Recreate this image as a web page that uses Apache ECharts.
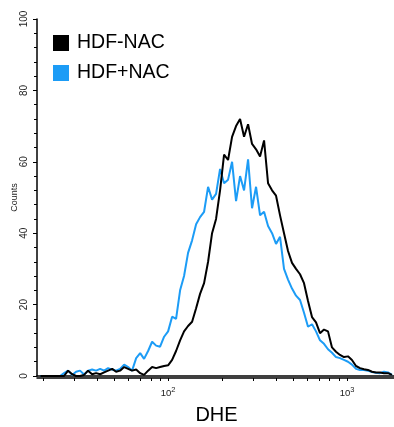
<!DOCTYPE html>
<html>
<head>
<meta charset="utf-8">
<script src="https://cdn.jsdelivr.net/npm/echarts@6/dist/echarts.min.js"></script>
<style>html,body{margin:0;padding:0;background:#fff}#c{width:394px;height:427px}</style>
</head>
<body>
<div id="c"></div>
<script>
// DHE intensity (channel centres, log scale)
var dhe = [19.3,20.3,21.4,22.5,23.7,24.9,26.2,27.6,29.1,30.6,32.2,33.9,35.7,37.6,39.6,41.7,43.9,46.2,48.7,51.2,53.9,56.8,59.8,62.9,66.3,69.8,73.4,77.3,81.4,85.7,90.2,95.0,100,105.3,110.8,116.7,122.8,129.3,136.2,143.4,150.9,158.9,167.3,176.1,185.4,195.2,205.5,216.4,227.8,239.8,252.5,265.8,279.9,294.6,310.2,326.6,343.9,362.0,381.1,401.2,422.4,444.6,468.1,492.8,518.9,546.3,575.1,605.5,637.4,671.1,706.5,743.8,783.1,824.4,867.9,913.8,962.0,1013,1066,1123,1182,1245,1310,1380,1452,1529,1610,1695,1784];
// Counts, HDF-NAC (black)
var hdfMinusNac = [0,0,0,0,0,0,0,1.5,0.5,0,0,0.3,1.5,0.5,0.8,0.5,1,1.5,2,1.2,1.5,2.5,2,1.5,1.8,0.8,0.3,1.5,2.5,2.2,2.5,2.8,3,4.5,7,10,12.5,14,15.2,19,23,26,32,40,44,52,62,60.5,67,70,72,67,70.5,65,63.5,61.5,66,54,52,50.5,45,40,35,31.7,30,28.5,26,21,16.5,15,12,13,12.5,8,6.8,5.9,5.3,5.5,4.5,2.8,2.2,1.9,1.7,1.2,1,1,0.8,0.8,0.3];
// Counts, HDF+NAC (blue)
var hdfPlusNac = [0,0,0,0,0,0,0.8,1.5,0.3,1.2,1.5,0.4,1.5,1.8,1.5,2,1.5,2.2,1.8,1.5,2,3.2,2.5,1.5,5,6.4,4.8,7,9.6,8.5,8.2,11,12.5,16.6,16,24,28,34.5,38,42.5,44.5,46,53,49.4,51,58,54,55,60,49,56,52,60.7,47,53,45,46,42,40,37,39,30,27,24.5,22.5,21.3,17.7,13.8,14.5,12.5,10,9,7.5,6.5,5.3,5,4.5,4,3.2,2,1.7,1.7,1.5,1.1,0.9,0.8,1.2,1,0.3];
var seriesNames = ['HDF-NAC','HDF+NAC'];
var seriesColors = ['#000000','#1c9cf6'];
var xMajorTicks = [100,1000];
var xMinorTicks = [20,30,40,50,60,70,80,90,100,200,300,400,500,600,700,800,900,1000];
var yTicks = [0,20,40,60,80,100];

function pairs(xs, ys){ return xs.map(function(x,i){ return [x, ys[i]]; }); }

var font = '"Liberation Sans", Arial, Helvetica, sans-serif';
var chart = echarts.init(document.getElementById('c'), null, {renderer:'canvas'});
chart.setOption({
  animation:false,
  backgroundColor:'#fff',
  grid:{left:37, right:-2, top:19, bottom:51, containLabel:false, outerBoundsMode:'none'},
  legend:{
    orient:'vertical', left:53, top:33, padding:0, itemWidth:16, itemHeight:16, itemGap:10,
    icon:'rect',
    textStyle:{fontFamily:font, fontSize:19.5, color:'#000', padding:[0,0,0,3]},
    data:seriesNames
  },
  xAxis:[{
    type:'log', logBase:10, min:18.5, max:1879, position:'bottom', offset:2,
    name:'DHE', nameLocation:'middle', nameGap:27,
    nameTextStyle:{fontFamily:font, fontSize:20, color:'#000'},
    axisLine:{show:true, onZero:false, lineStyle:{color:'#000', width:1.5}},
    axisTick:{show:true, length:3, inside:false, customValues:xMinorTicks, lineStyle:{color:'#000', width:1}},
    axisLabel:{
      customValues:xMajorTicks, margin:8, fontFamily:font, fontSize:9.5, color:'#222',
      formatter:function(v){ var e=Math.round(Math.log10(v)); return '10{s|'+e+'}'; },
      rich:{s:{fontSize:7.5, verticalAlign:'top', padding:[0,0,6,0], fontFamily:font, color:'#222'}}
    },
    splitLine:{show:false}, minorTick:{show:false}
  },{
    type:'value', min:0, max:1, position:'top',
    axisLine:{show:true, lineStyle:{color:'#000', width:1.5}},
    axisTick:{show:false}, axisLabel:{show:false}, splitLine:{show:false}
  }],
  yAxis:{
    type:'value', min:0, max:100, interval:20,
    name:'Counts', nameLocation:'middle', nameGap:18, nameRotate:90, nameMoveOverlap:false,
    nameTextStyle:{fontFamily:font, fontSize:9, color:'#222'},
    axisLine:{show:true, lineStyle:{color:'#000', width:1.5}},
    axisTick:{show:true, length:4, lineStyle:{color:'#000', width:1}},
    minorTick:{show:true, splitNumber:5, length:3, lineStyle:{color:'#000', width:1}},
    axisLabel:{rotate:90, margin:8, fontFamily:font, fontSize:10, color:'#222',
      customValues:yTicks},
    splitLine:{show:false}
  },
  series:[{
    name:seriesNames[1], type:'line', showSymbol:false, symbol:'none',
    data:pairs(dhe, hdfPlusNac), color:seriesColors[1],
    lineStyle:{width:2, color:seriesColors[1]}, itemStyle:{color:seriesColors[1]}, z:2
  },{
    name:seriesNames[0], type:'line', showSymbol:false, symbol:'none',
    data:pairs(dhe, hdfMinusNac), color:seriesColors[0],
    lineStyle:{width:2, color:seriesColors[0]}, itemStyle:{color:seriesColors[0]}, z:3
  }]
});
</script>
</body>
</html>
